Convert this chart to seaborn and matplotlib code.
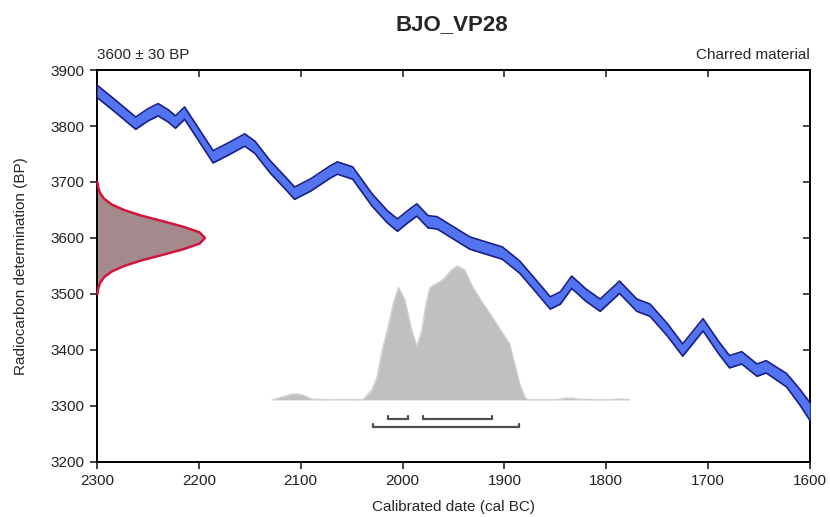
#!/usr/bin/env python3

import numpy as np
import pandas as pd
import matplotlib
matplotlib.use("Agg")
import matplotlib.pyplot as plt
import seaborn as sns

# calibration curve band: centre (BP) and half width
cal_years = [2300, 2285, 2262, 2250, 2240, 2230, 2223, 2214, 2200, 2186,
             2170, 2155, 2145, 2130, 2115, 2106, 2090, 2071, 2064, 2049,
             2030, 2015, 2005, 1995, 1986, 1975, 1966, 1950, 1934, 1918,
             1902, 1885, 1868, 1855, 1845, 1834, 1820, 1806, 1787, 1770,
             1757, 1740, 1725, 1705, 1690, 1679, 1667, 1652, 1643, 1623,
             1610, 1600]
cal_bp = [3862, 3840, 3805, 3820, 3829, 3818, 3807, 3823, 3784, 3745,
          3760, 3775, 3762, 3727, 3698, 3680, 3695, 3718, 3725, 3716,
          3668, 3638, 3623, 3638, 3650, 3629, 3627, 3609, 3591, 3582,
          3573, 3548, 3512, 3484, 3493, 3521, 3498, 3480, 3512, 3480,
          3471, 3436, 3400, 3445, 3405, 3379, 3386, 3364, 3370, 3346,
          3316, 3290]
cal_err = [11] * 49 + [12, 14, 16]

# measurement 3600 +/- 30 BP, relative density read at 10 BP steps
meas_bp = [3500, 3510, 3520, 3530, 3540, 3550, 3560, 3570, 3580, 3590, 3600,
           3610, 3620, 3630, 3640, 3650, 3660, 3670, 3680, 3690, 3700]
meas_dens = [0.004, 0.011, 0.029, 0.066, 0.135, 0.25, 0.41, 0.61, 0.80, 0.95, 1.0,
             0.95, 0.80, 0.61, 0.41, 0.25, 0.135, 0.066, 0.029, 0.011, 0.004]

# calibrated date probability (relative height)
post_years = [2128, 2118, 2110, 2104, 2098, 2089, 2075, 2050, 2039, 2030,
              2025, 2020, 2015, 2009, 2004, 1998, 1991, 1986, 1981, 1977,
              1973, 1966, 1960, 1952, 1946, 1939, 1931, 1921, 1912, 1902,
              1895, 1890, 1885, 1880, 1877, 1850, 1840, 1834, 1828, 1810,
              1795, 1788, 1777]
post_prob = [0.0, 0.02, 0.04, 0.045, 0.035, 0.005, 0.0, 0.002, 0.0, 0.075,
             0.17, 0.37, 0.52, 0.72, 0.84, 0.75, 0.52, 0.40, 0.52, 0.72,
             0.84, 0.87, 0.90, 0.97, 1.0, 0.97, 0.84, 0.72, 0.62, 0.50,
             0.42, 0.27, 0.12, 0.02, 0.0, 0.0, 0.012, 0.014, 0.006, 0.0,
             0.0, 0.008, 0.0]

# highest posterior density ranges (cal BC)
ranges_68 = [(2014, 1995), (1980, 1912)]
ranges_95 = [(2029, 1886)]

sns.set_theme(style="ticks")
plt.rcParams['font.family'] = ['Liberation Sans', 'DejaVu Sans']

fig = plt.figure(figsize=(8.3, 5.17), dpi=100)
ax = fig.add_axes([0.1169, 0.1064, 0.859, 0.7582])

# calibration curve
cal = pd.DataFrame({'year': cal_years, 'bp': cal_bp, 'err': cal_err})
cal['lo'] = cal['bp'] - cal['err']
cal['hi'] = cal['bp'] + cal['err']
ax.fill_between(cal['year'], cal['lo'], cal['hi'], color='#5274f0', lw=0, zorder=3)
sns.lineplot(data=cal, x='year', y='lo', color='#1a1f86', lw=1.2, ax=ax, zorder=4)
sns.lineplot(data=cal, x='year', y='hi', color='#1a1f86', lw=1.2, ax=ax, zorder=4)

# measurement on the y axis
meas = pd.DataFrame({'bp': meas_bp, 'dens': meas_dens})
meas['x'] = 2300 - meas['dens'] * 106
ax.fill_betweenx(meas['bp'], 2300, meas['x'], color='#a48a8d', lw=0, zorder=2)
ax.plot(meas['x'], meas['bp'], color='#d4163f', lw=1.8, zorder=3, clip_on=False)

# calibrated distribution
post = pd.DataFrame({'year': post_years, 'prob': post_prob})
post['y'] = 3311 + post['prob'] * 239
ax.fill_between(post['year'], 3311, post['y'], color='#c0c0c0', lw=0, zorder=1)
sns.lineplot(data=post, x='year', y='y', color='#cfcfcf', lw=1.0, ax=ax, zorder=1)

# range brackets
for rows, y in [(ranges_68, 3277), (ranges_95, 3262)]:
    for a, b in rows:
        ax.plot([a, a, b, b], [y + 5, y, y, y + 5], color='#505050', lw=1.6,
                solid_joinstyle='miter', zorder=2)

ax.set_xlim(2300, 1600)
ax.set_ylim(3200, 3900)
ax.set_xticks(np.arange(2300, 1599, -100))
ax.set_yticks(np.arange(3200, 3901, 100))
ax.tick_params(direction='out', length=5, width=1.2, labelsize=11, colors='#222222', pad=4)
ax.set_xlabel('Calibrated date (cal BC)', fontsize=11, labelpad=8)
ax.set_ylabel('Radiocarbon determination (BP)', fontsize=11, labelpad=16)

top = ax.secondary_xaxis('top')
top.set_xticks(np.arange(2300, 1599, -100))
top.tick_params(direction='in', length=5, width=1.2, labeltop=False)
right = ax.secondary_yaxis('right')
right.set_yticks(np.arange(3200, 3901, 100))
right.tick_params(direction='in', length=5, width=1.2, labelright=False)

for sp in list(ax.spines.values()) + [top.spines['top'], right.spines['right']]:
    sp.set_linewidth(1.4)
    sp.set_color('black')

fig.text(0.5445, 0.952, 'BJO_VP28', fontsize=16, fontweight='bold',
         ha='center', va='center')
ax.text(0.0, 1.02, '3600 \u00b1 30 BP', transform=ax.transAxes, fontsize=11,
        ha='left', va='bottom')
ax.text(1.0, 1.02, 'Charred material', transform=ax.transAxes, fontsize=11,
        ha='right', va='bottom')

fig.savefig('out.png', dpi=100)
plt.close(fig)
